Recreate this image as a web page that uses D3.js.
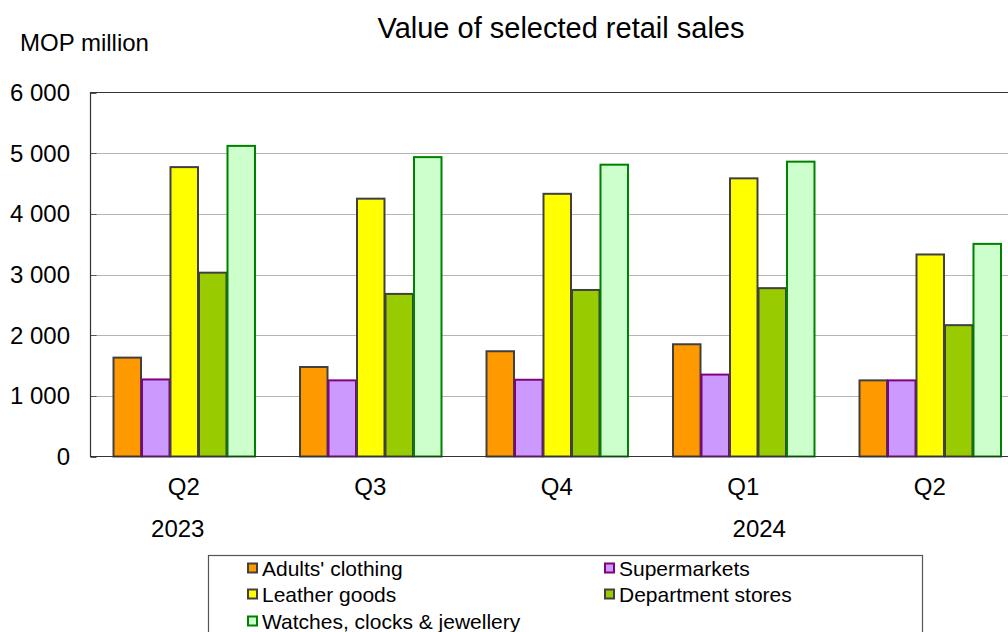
<!DOCTYPE html>
<html><head><meta charset="utf-8">
<script src="https://cdn.jsdelivr.net/npm/d3@7"></script>
<style>body{margin:0;background:#fff}svg{display:block;font-family:"Liberation Sans",Arial,sans-serif}</style>
</head><body><svg id="c" width="1008" height="632"></svg>
<script>
const quarters = ["Q2","Q3","Q4","Q1","Q2"];
const periodIds = ["2023Q2","2023Q3","2023Q4","2024Q1","2024Q2"];
const years = [{label:"2023", idx:0, dx:-6},{label:"2024", idx:3, dx:16}];
const seriesNames = ["Adults' clothing","Supermarkets","Leather goods","Department stores","Watches, clocks & jewellery"];
const adultsClothing = [1630,1475,1735,1850,1255];
const supermarkets = [1270,1255,1265,1350,1255];
const leatherGoods = [4770,4250,4330,4585,3330];
const departmentStores = [3030,2680,2745,2775,2165];
const watchesJewellery = [5120,4935,4810,4860,3505];
const yTicks = [0,1000,2000,3000,4000,5000,6000];

const seriesValues = [adultsClothing,supermarkets,leatherGoods,departmentStores,watchesJewellery];
const fills = ["#FF9900","#CC99FF","#FFFF00","#99CC00","#CCFFCC"];
const strokes = ["#404040","#800080","#404040","#404040","#008000"];

const svg = d3.select("#c");
const L=90.5, R=1023, T=92.5, B=456.5;
const x = d3.scaleBand().domain(periodIds).range([L,R]).paddingInner(0.236).paddingOuter(0.118);
const xs = d3.scaleBand().domain(seriesNames).range([0,x.bandwidth()]);
const y = d3.scaleLinear().domain([0,6000]).range([B,T]);

// gridlines
svg.append("g").selectAll("line").data(yTicks.filter(d=>d>0&&d<6000)).join("line")
  .attr("x1",L).attr("x2",R).attr("y1",d=>Math.round(y(d))+0.5).attr("y2",d=>Math.round(y(d))+0.5)
  .attr("stroke","#b4b4b4").attr("stroke-width",1);
// inner ticks
svg.append("g").selectAll("line").data(yTicks).join("line")
  .attr("x1",L).attr("x2",L+6).attr("y1",d=>Math.round(y(d))+0.5).attr("y2",d=>Math.round(y(d))+0.5)
  .attr("stroke","#555").attr("stroke-width",1);

// bars
const flat=[];
periodIds.forEach((p,i)=>seriesNames.forEach((s,j)=>flat.push({p,s,j,v:seriesValues[j][i]})));
svg.append("g").selectAll("rect").data(flat).join("rect")
  .attr("x",d=>x(d.p)+xs(d.s)+1).attr("width",xs.bandwidth()-1)
  .attr("y",d=>y(d.v)).attr("height",d=>B-y(d.v))
  .attr("fill",d=>fills[d.j]).attr("stroke",d=>strokes[d.j]).attr("stroke-width",2);

// frame
svg.append("path").attr("d",`M${R},${T}H${L}V${B}H${R}`).attr("fill","none").attr("stroke","#333").attr("stroke-width",1.2);

// y tick labels
svg.append("g").selectAll("text").data(yTicks).join("text")
  .attr("x",70).attr("y",d=>y(d)).attr("dy","0.36em").attr("text-anchor","end")
  .attr("font-size",24).text(d=>d3.format(",")(d).replace(/,/g," "));

// x labels
svg.append("g").selectAll("text").data(periodIds).join("text")
  .attr("x",d=>x(d)+x.bandwidth()/2).attr("y",495).attr("text-anchor","middle")
  .attr("font-size",24).text((d,i)=>quarters[i]);
svg.append("g").selectAll("text").data(years).join("text")
  .attr("x",d=>x(periodIds[d.idx])+x.bandwidth()/2+d.dx).attr("y",537).attr("text-anchor","middle")
  .attr("font-size",24).text(d=>d.label);

// titles
svg.append("text").attr("x",561).attr("y",38).attr("text-anchor","middle").attr("font-size",29).text("Value of selected retail sales");
svg.append("text").attr("x",20).attr("y",51).attr("font-size",24).text("MOP million");

// legend
svg.append("rect").attr("x",208.5).attr("y",555.5).attr("width",714).attr("height",90).attr("fill","none").attr("stroke","#555").attr("stroke-width",1.2);
const legPos = [[247,568],[604,568],[247,594],[604,594],[247,621]];
const lg = svg.append("g").selectAll("g").data(seriesNames).join("g")
  .attr("transform",(d,i)=>`translate(${legPos[i][0]},${legPos[i][1]})`);
lg.append("rect").attr("x",1).attr("y",-4.5).attr("width",9).attr("height",9)
  .attr("fill",(d,i)=>fills[i]).attr("stroke",(d,i)=>strokes[i]).attr("stroke-width",2);
lg.append("text").attr("x",15).attr("y",0).attr("dy","0.36em").attr("font-size",21).text(d=>d);
</script></body></html>
